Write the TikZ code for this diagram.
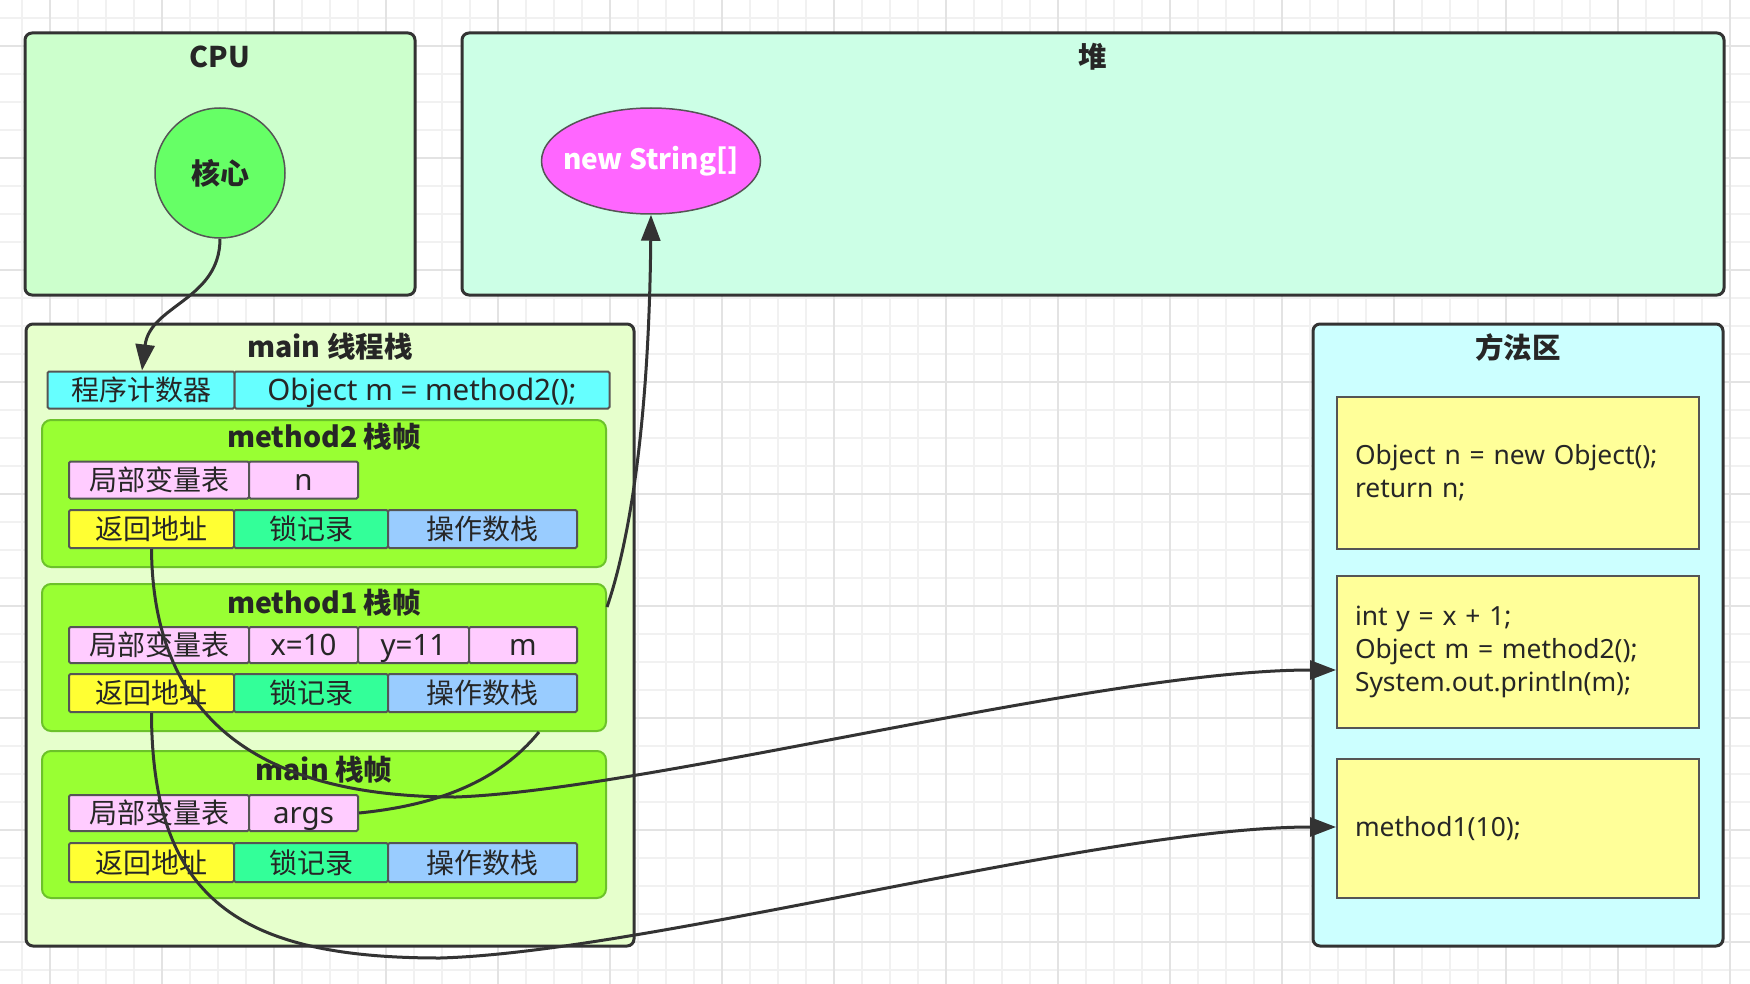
\documentclass[tikz,border=0pt]{standalone}
\usepackage{fontspec}
\setmainfont{Noto Sans CJK SC}
\newfontfamily\lat{Noto Sans}
\usetikzlibrary{arrows.meta,shapes.geometric}
\definecolor{gridminor}{HTML}{F1F1F1}
\definecolor{gridmajor}{HTML}{E3E3E3}
\definecolor{boxline}{HTML}{333333}
\definecolor{txt}{HTML}{262626}
\definecolor{cpufill}{HTML}{CCFFCC}
\definecolor{heapfill}{HTML}{CCFFE6}
\definecolor{stackfill}{HTML}{E6FFCC}
\definecolor{methfill}{HTML}{CCFFFF}
\definecolor{framefill}{HTML}{99FF33}
\definecolor{frameline}{HTML}{6CC22A}
\definecolor{corefill}{HTML}{66FF66}
\definecolor{objfill}{HTML}{FF66FF}
\definecolor{pcfill}{HTML}{66FFFF}
\definecolor{lvfill}{HTML}{FFCCFF}
\definecolor{rafill}{HTML}{FFFF33}
\definecolor{lockfill}{HTML}{33FF99}
\definecolor{opfill}{HTML}{99CCFF}
\definecolor{codefill}{HTML}{FFFF99}
\definecolor{cellline}{HTML}{555555}
\tikzset{
  region/.style={draw=boxline, line width=3pt, rounded corners=7pt, inner sep=0pt},
  framebox/.style={draw=frameline, fill=framefill, line width=2pt, rounded corners=9pt, inner sep=0pt},
  cell/.style={draw=cellline, line width=2pt, rounded corners=1.5pt, inner sep=0pt, text=txt,
    font=\fontsize{28}{30}\selectfont},
  latcell/.style={cell, font=\lat\fontsize{29.5}{30}\selectfont, text height=27pt, text depth=5.9pt},
  titletext/.style={text=txt, font=\bfseries\fontsize{28.5}{30}\selectfont, inner sep=0pt},
  codebox/.style={draw=cellline, fill=codefill, line width=2pt, inner xsep=18pt, inner ysep=0pt,
    text width=326pt, align=left, minimum height=#1, text=txt, font=\lat\fontsize{26.4}{33}\selectfont},
  conn/.style={draw=boxline, line width=3pt},
  arr/.style={conn, -{Triangle[length=26pt,width=19pt]}},
}
\begin{document}
\begin{tikzpicture}[x=1pt,y=-1pt]
\useasboundingbox (0,0) rectangle (1750,984);
\fill[white] (0,0) rectangle (1750,984);
% grid
\foreach \i in {0,...,61} {\draw[gridminor, line width=1.4pt] ({22+28*\i},0) -- ({22+28*\i},984);}
\foreach \i in {0,...,35} {\draw[gridminor, line width=1.4pt] (0,{18+28*\i}) -- (1750,{18+28*\i});}
\foreach \i in {0,...,15} {\draw[gridmajor, line width=1.6pt] ({50+112*\i},0) -- ({50+112*\i},984);}
\foreach \i in {0,...,8} {\draw[gridmajor, line width=1.6pt] (0,{46+112*\i}) -- (1750,{46+112*\i});}

% regions
\node[region, fill=cpufill, minimum width=390pt, minimum height=262pt] (cpu) at (220,164) {};
\node[region, fill=heapfill, minimum width=1262pt, minimum height=262pt] (heap) at (1093,164) {};
\node[region, fill=stackfill, minimum width=608pt, minimum height=622pt] (stack) at (330,635) {};
\node[region, fill=methfill, minimum width=410pt, minimum height=622pt] (meth) at (1518,635) {};

\node[titletext] (cputitle) at (220,57) {CPU};
\node[titletext] (heaptitle) at (1093,57) {堆};
\node[titletext] (stacktitle) at (330,347) {main 线程栈};
\node[titletext] (methtitle) at (1518,347) {方法区};

% CPU core and heap object
\node[circle, draw=cellline, line width=1.5pt, fill=corefill, minimum size=130pt, inner sep=0pt,
  text=txt, font=\bfseries\fontsize{29}{30}\selectfont] (core) at (220,173) {核心};
\node[ellipse, draw=cellline, line width=1.5pt, fill=objfill, minimum width=219pt, minimum height=106pt,
  inner sep=0pt] (obj) at (651,161) {};
\node[text=white, font=\bfseries\fontsize{28}{30}\selectfont, inner sep=0pt] (objtext) at (obj.center) {new String[]};

% program counter
\node[cell, fill=pcfill, minimum width=187pt, minimum height=37pt] (pc) at (141,390) {程序计数器};
\node[latcell, fill=pcfill, minimum width=375pt, minimum height=37pt] (pcval) at (422,390) {Object m = method2();};

% method2 frame
\node[framebox, minimum width=564pt, minimum height=147pt] (f2) at (324,493.5) {};
\node[titletext] (f2title) at (324,437) {method2 栈帧};
\node[cell, fill=lvfill, minimum width=180pt, minimum height=37pt] (f2lv) at (159,480) {局部变量表};
\node[latcell, fill=lvfill, minimum width=109pt, minimum height=37pt] (f2n) at (303.5,480) {n};
\node[cell, fill=rafill, minimum width=165pt, minimum height=38pt] (f2ra) at (151.5,529) {返回地址};
\node[cell, fill=lockfill, minimum width=154pt, minimum height=38pt] (f2lock) at (311,529) {锁记录};
\node[cell, fill=opfill, minimum width=189pt, minimum height=38pt] (f2op) at (482.5,529) {操作数栈};

% method1 frame
\node[framebox, minimum width=564pt, minimum height=147pt] (f1) at (324,657.5) {};
\node[titletext] (f1title) at (324,603) {method1 栈帧};
\node[cell, fill=lvfill, minimum width=180pt, minimum height=36pt] (f1lv) at (159,645) {局部变量表};
\node[latcell, fill=lvfill, minimum width=109pt, minimum height=36pt] (f1x) at (303.5,645) {x=10};
\node[latcell, fill=lvfill, minimum width=111pt, minimum height=36pt] (f1y) at (413.5,645) {y=11};
\node[latcell, fill=lvfill, minimum width=108pt, minimum height=36pt] (f1m) at (523,645) {m};
\node[cell, fill=rafill, minimum width=165pt, minimum height=38pt] (f1ra) at (151.5,693) {返回地址};
\node[cell, fill=lockfill, minimum width=154pt, minimum height=38pt] (f1lock) at (311,693) {锁记录};
\node[cell, fill=opfill, minimum width=189pt, minimum height=38pt] (f1op) at (482.5,693) {操作数栈};

% main frame
\node[framebox, minimum width=564pt, minimum height=147pt] (f0) at (324,824.5) {};
\node[titletext] (f0title) at (324,770) {main 栈帧};
\node[cell, fill=lvfill, minimum width=180pt, minimum height=36pt] (f0lv) at (159,813) {局部变量表};
\node[latcell, fill=lvfill, minimum width=109pt, minimum height=36pt] (f0args) at (303.5,813) {args};
\node[cell, fill=rafill, minimum width=165pt, minimum height=39pt] (f0ra) at (151.5,862.5) {返回地址};
\node[cell, fill=lockfill, minimum width=154pt, minimum height=39pt] (f0lock) at (311,862.5) {锁记录};
\node[cell, fill=opfill, minimum width=189pt, minimum height=39pt] (f0op) at (482.5,862.5) {操作数栈};

% method area code
\node[codebox=152pt] (code2) at (1518,473) {Object n = new Object();\\return n;};
\node[codebox=152pt] (code1) at (1518,652) {int y = x + 1;\\Object m = method2();\\System.out.println(m);};
\node[codebox=139pt] (code0) at (1518,828.5) {method1(10);};

% connectors
\draw[arr] (core.south) .. controls (220,300) and (150,305) .. (pc.north -| 142,0);
\draw[arr] (f1.east |- 0,607) .. controls (630,540) and (649,420) .. (obj.south);
\coordinate (c3) at (456,797);
\draw[arr] (f2ra.south) .. controls (153,720) and (260,797) .. (c3)
  .. controls (650,790) and (1100,670) .. (code1.west |- 0,670);
\coordinate (c4) at (440,958);
\draw[arr] (f1ra.south) .. controls (152,900) and (240,958) .. (c4)
  .. controls (650,952) and (1100,827) .. (code0.west |- 0,827);
\draw[conn] (f0args.east) .. controls (440,805) and (500,780) .. (f1.south -| 539,0);
\end{tikzpicture}
\end{document}
